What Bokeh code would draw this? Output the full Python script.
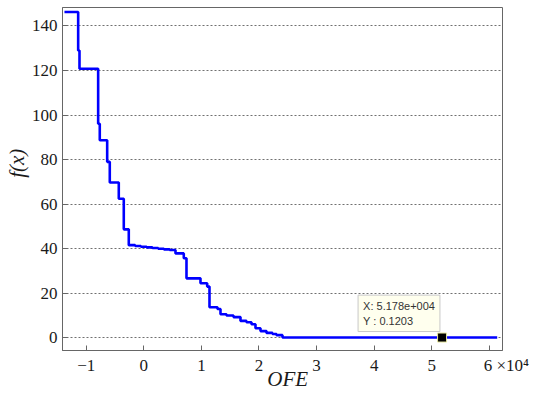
from bokeh.plotting import figure
from bokeh.models import Range1d, FixedTicker
from bokeh.models import Label
from bokeh.embed import file_html
from bokeh.resources import INLINE

# Best-so-far objective value f(x) versus objective function evaluations (OFE)
ofe = [-13770, -11390, -11160, -7920, -7640, -6354, -5903, -4340, -3472, -2604,
       -1500, -500, 500, 1500, 2500, 3500, 4500, 5503, 6944, 7413, 9844, 11007,
       11406, 12795, 13316, 14358, 15573, 16788, 17830, 18698, 19392, 20260,
       21302, 22344, 23038, 24080, 61350]
fx = [146.3, 129.0, 120.8, 96.1, 88.7, 79.0, 69.7, 62.4, 48.7, 41.6,
      41.2, 40.9, 40.6, 40.3, 40.0, 39.7, 39.4, 37.9, 35.7, 26.7, 24.5, 23.0,
      13.7, 12.9, 10.6, 10.0, 9.3, 7.6, 7.0, 6.1, 4.3, 3.0,
      2.2, 1.7, 1.2, 0.1203, 0.1203]

x_ticks = [-10000, 0, 10000, 20000, 30000, 40000, 50000, 60000]
x_tick_labels = ["\u22121", "0", "1", "2", "3", "4", "5", "6"]
x_scale_text = "\u00a0\u00d710\u2074"
y_ticks = [0, 20, 40, 60, 80, 100, 120, 140]

tip_x = [51780]
tip_y = [0.1203]
tip_text = "X: 5.178e+004\nY : 0.1203"

SERIF = "Liberation Serif"
AX = "#666666"
TXT = "#1a1a1a"

p = figure(width=537, height=393, output_backend="svg", toolbar_location=None,
           x_range=Range1d(-14110, 62270), y_range=Range1d(-5.7, 148.3),
           min_border_left=62, min_border_right=35, min_border_top=7,
           min_border_bottom=42)
p.outline_line_color = AX
p.background_fill_color = "white"
p.border_fill_color = "white"

# last tick label carries the x10^4 factor; padded on the left so "6" stays on its tick
labels = list(x_tick_labels)
labels[-1] = "\u00a0" * 8 + labels[-1] + x_scale_text

# bottom axis
xa = p.xaxis[0]
xa.ticker = FixedTicker(ticks=x_ticks)
xa.major_label_overrides = {t: s for t, s in zip(x_ticks, labels)}
xa.major_tick_in = 5
xa.major_tick_out = 0
xa.minor_tick_line_color = None
xa.axis_line_color = AX
xa.major_tick_line_color = AX
xa.major_label_text_font = SERIF
xa.major_label_text_font_size = "17px"
xa.major_label_text_color = TXT
xa.major_label_standoff = 5
xa.axis_label = "\u00a0\u00a0OFE"
xa.axis_label_text_font = SERIF
xa.axis_label_text_font_style = "italic"
xa.axis_label_text_font_size = "21px"
xa.axis_label_text_color = TXT
xa.axis_label_standoff = -11

# left axis
ya = p.yaxis[0]
ya.ticker = FixedTicker(ticks=y_ticks)
ya.major_tick_in = 5
ya.major_tick_out = 0
ya.minor_tick_line_color = None
ya.axis_line_color = AX
ya.major_tick_line_color = AX
ya.major_label_text_font = SERIF
ya.major_label_text_font_size = "17px"
ya.major_label_text_color = TXT
ya.major_label_standoff = 5
ya.axis_label = "\u00a0" * 6 + "f(x)"
ya.axis_label_text_font = SERIF
ya.axis_label_text_font_style = "italic"
ya.axis_label_text_font_size = "21px"
ya.axis_label_text_color = TXT
ya.axis_label_standoff = 0

# grid
p.xgrid.visible = False
p.ygrid.ticker = FixedTicker(ticks=y_ticks)
p.ygrid.grid_line_color = "#707070"
p.ygrid.grid_line_dash = "2 2"
p.ygrid.grid_line_width = 1

# curve
p.step(ofe, fx, mode="after", line_color="#0000FF", line_width=2.6)

# data tip
p.scatter(tip_x, tip_y, marker="square", size=9, fill_color="black",
          line_color="#E6E6A0", line_width=1)
p.add_layout(Label(x=tip_x[0], y=tip_y[0], text=tip_text, x_offset=-84, y_offset=6,
                   text_align="left", text_baseline="bottom",
                   text_font="Liberation Sans", text_font_size="11px",
                   text_color="#333333", background_fill_color="#FFFFEE",
                   border_line_color="#C8C8C8", padding=5))

open("out.html", "w").write(file_html(p, INLINE))
